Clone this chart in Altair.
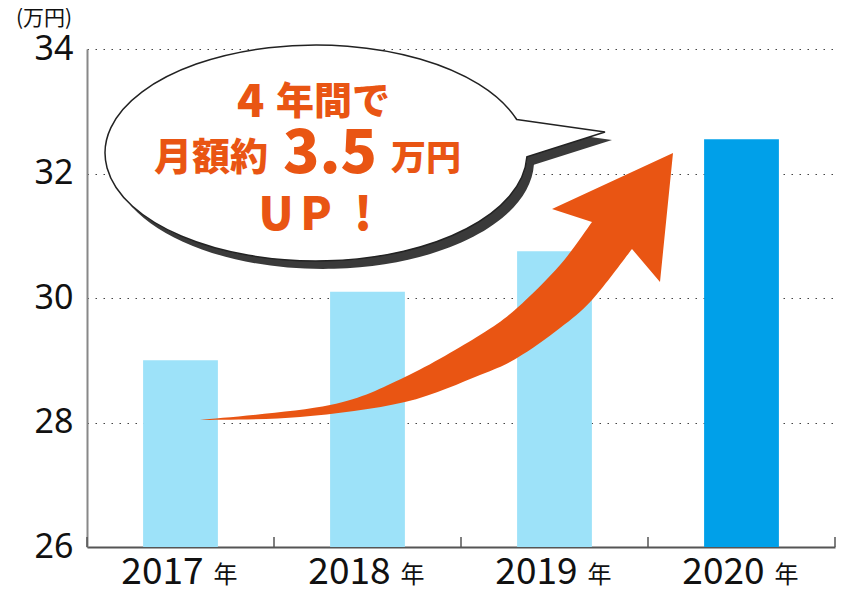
import math
import altair as alt
import pandas as pd

# ---- data ----
years = ["2017", "2018", "2019", "2020"]
salary = [29.0, 30.1, 30.75, 32.55]
y_ticks = [26, 28, 30, 32, 34]
year_suffix = "年"
unit_label = "(万円)"
bubble_line1 = ["4", "年間で"]
bubble_line2 = ["月額約", "3.5", "万円"]
bubble_line3 = ["U", "P", "!"]

# ---- style ----
W, H = 748, 498
OX, OY = 87, 49          # plot origin on the page (used for annotation drawing)
LIGHT = "#9de2f9"
DARK = "#00a0e9"
ORANGE = "#e95513"
JP = "Noto Sans CJK JP"

df = pd.DataFrame({"year": years, "value": salary})
ONE = alt.Data(values=[{}])


def p(x, y):
    return f"{x - OX:.1f},{y - OY:.1f}"


def catmull(pts):
    out = []
    n = len(pts)
    for i in range(n - 1):
        p0 = pts[i - 1] if i > 0 else pts[i]
        p1 = pts[i]
        p2 = pts[i + 1]
        p3 = pts[i + 2] if i + 2 < n else pts[i + 1]
        c1 = (p1[0] + (p2[0] - p0[0]) / 6, p1[1] + (p2[1] - p0[1]) / 6)
        c2 = (p2[0] - (p3[0] - p1[0]) / 6, p2[1] - (p3[1] - p1[1]) / 6)
        out.append(f"C{p(*c1)} {p(*c2)} {p(*p2)}")
    return " ".join(out)


# arrow outline (page pixels)
upper = [(200, 420), (330, 405), (405, 377), (480, 335), (517, 308), (560, 265), (592, 222)]
lower = [(632, 249), (592, 300), (560, 328), (517, 358), (480, 375), (405, 402), (300, 417), (200, 420)]
head = [(552, 209), (673, 153), (660, 282)]
arrow_path = (f"M{p(*upper[0])} " + catmull(upper) + " "
              + " ".join(f"L{p(*h)}" for h in head) + f" L{p(*lower[0])} "
              + catmull(lower) + " Z")


# speech bubble (ellipse + tail)
def bubble_path(dx=0.0, dy=0.0):
    cx, cy, rx, ry = 316 + dx, 153 + dy, 211, 108
    t1, t2 = math.radians(-18), math.radians(2)
    ux, uy = cx + rx * math.cos(t1), cy + ry * math.sin(t1)
    lx, ly = cx + rx * math.cos(t2), cy + ry * math.sin(t2)
    tip = (605 + dx, 132 + dy)
    return (f"M{p(ux, uy)} L{p(*tip)} L{p(lx, ly)} "
            f"A{rx},{ry} 0 1 1 {p(ux, uy)} Z")


def shape_layer(path, fill, stroke=None, sw=0):
    kw = dict(shape=path, size=4, filled=True, fill=fill, opacity=1, strokeJoin="miter")
    if stroke:
        kw.update(stroke=stroke, strokeWidth=sw)
    else:
        kw.update(strokeWidth=0)
    return alt.Chart(ONE).mark_point(**kw).encode(x=alt.value(0), y=alt.value(0))


def txt(s, x, y, size, align="left", color=ORANGE, weight=900, font=JP):
    return alt.Chart(ONE).mark_text(
        text=s, align=align, baseline="alphabetic", fontSize=size,
        fontWeight=weight, font=font, color=color
    ).encode(x=alt.value(x - OX), y=alt.value(y - OY))


xenc = alt.X("year:N", sort=years,
             scale=alt.Scale(paddingInner=0.6, paddingOuter=0.3),
             axis=alt.Axis(labels=False, ticks=False, title=None,
                           domainColor="#555", domainWidth=2))

bars = alt.Chart(df).mark_bar().encode(
    x=xenc,
    y=alt.Y("value:Q", scale=alt.Scale(domain=[26, 34], nice=False, zero=False),
            axis=alt.Axis(values=y_ticks, title=None, ticks=False, tickSize=0,
                          labelPadding=14, labelFontSize=34, labelFont="Noto Sans",
                          labelColor="#111", labelBaseline="middle",
                          domainColor="#888", domainWidth=2,
                          gridDash=[1.5, 6.5], gridColor="#444", gridWidth=1.2)),
    y2=alt.datum(26),
    color=alt.condition(alt.datum.year == "2020", alt.value(DARK), alt.value(LIGHT)),
)

step = W / 4
ticks = alt.Chart(df).mark_rule(color="#555", strokeWidth=1.5, xOffset=-0.3 * step).encode(
    x=alt.X("year:N", sort=years, bandPosition=0),
    y=alt.value(H - 10), y2=alt.value(H),
)
last_tick = alt.Chart(ONE).mark_rule(color="#555", strokeWidth=1.5).encode(
    x=alt.value(W), y=alt.value(H - 10), y2=alt.value(H)
)

year_num = alt.Chart(df).mark_text(
    align="right", baseline="alphabetic", dx=23, fontSize=37, font=JP, color="#111"
).encode(x=alt.X("year:N", sort=years), y=alt.value(H + 37), text="year:N")
year_suf = alt.Chart(df).mark_text(
    align="left", baseline="alphabetic", dx=33, fontSize=24, font=JP, color="#111"
).encode(x=alt.X("year:N", sort=years), y=alt.value(H + 36), text=alt.value(year_suffix))

unit = txt(unit_label, 44, 25, 21, align="center", color="#111", weight="normal")

layers = [
    bars, ticks, last_tick, year_num, year_suf, unit,
    shape_layer(bubble_path(7, 8), "#3a3a3a"),
    shape_layer(bubble_path(), "#ffffff", "#222", 1.5),
    shape_layer(arrow_path, ORANGE),
    txt(bubble_line1[0], 237, 117, 45),
    txt(bubble_line1[1], 276, 114, 38),
    txt(bubble_line2[0], 154, 170, 38),
    txt(bubble_line2[1], 330, 173, 60, align="center"),
    txt(bubble_line2[2], 391, 170, 35),
    txt(bubble_line3[0], 276, 230, 46, align="center"),
    txt(bubble_line3[1], 316, 230, 46, align="center"),
    txt(bubble_line3[2], 363, 230, 46, align="center"),
]

chart = alt.layer(*layers).properties(
    width=W, height=H,
    padding={"left": 79, "top": 41, "right": 17, "bottom": 46},
    autosize=alt.AutoSizeParams(type="none"),
).configure_view(strokeWidth=0)

chart.save("out.html", embed_options={"renderer": "svg", "actions": False})
